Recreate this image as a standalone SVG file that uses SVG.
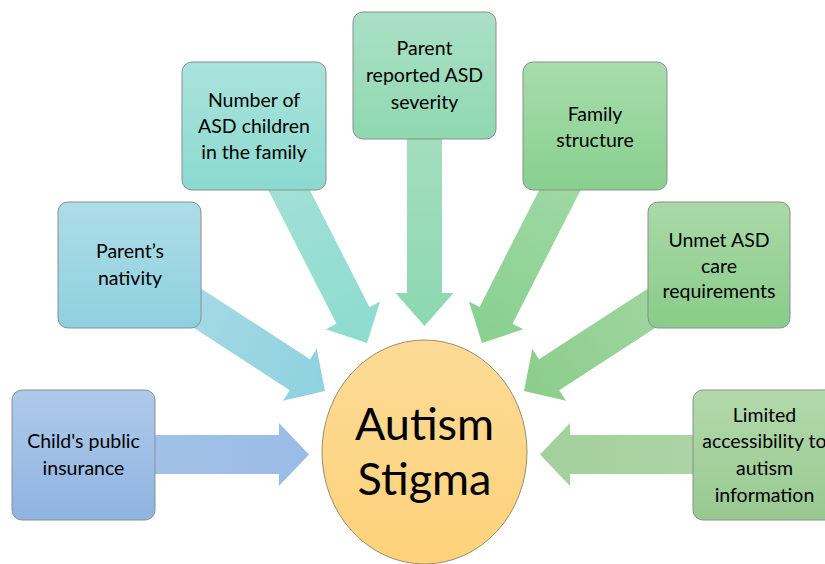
<svg xmlns="http://www.w3.org/2000/svg" width="825" height="564" viewBox="0 0 825 564">
<defs>
<style>
.box{stroke:#8a8f8f;stroke-width:1}
.t{font-family:Lato,"Open Sans","Liberation Sans",sans-serif;font-size:19.5px;fill:#000;text-anchor:middle}
.big{font-family:Lato,"Open Sans","Liberation Sans",sans-serif;font-size:45px;fill:#000;text-anchor:middle}
</style>
<linearGradient id="gChild" x1="0" y1="0" x2="0" y2="1"><stop offset="0" stop-color="#aecaeb"/><stop offset="1" stop-color="#8fb4e0"/></linearGradient>
<linearGradient id="gNat" x1="0" y1="0" x2="0" y2="1"><stop offset="0" stop-color="#aedde7"/><stop offset="1" stop-color="#8ed0df"/></linearGradient>
<linearGradient id="gNum" x1="0" y1="0" x2="0" y2="1"><stop offset="0" stop-color="#aae3db"/><stop offset="1" stop-color="#8bdacf"/></linearGradient>
<linearGradient id="gSev" x1="0" y1="0" x2="0" y2="1"><stop offset="0" stop-color="#abe0c6"/><stop offset="1" stop-color="#8fd8b0"/></linearGradient>
<linearGradient id="gFam" x1="0" y1="0" x2="0" y2="1"><stop offset="0" stop-color="#a8dcac"/><stop offset="1" stop-color="#88d08e"/></linearGradient>
<linearGradient id="gUnm" x1="0" y1="0" x2="0" y2="1"><stop offset="0" stop-color="#aad9a8"/><stop offset="1" stop-color="#89cc89"/></linearGradient>
<linearGradient id="gLim" x1="0" y1="0" x2="0" y2="1"><stop offset="0" stop-color="#b3d9ab"/><stop offset="1" stop-color="#98c991"/></linearGradient>
<linearGradient id="aChild" x1="0" y1="0" x2="1" y2="0"><stop offset="0" stop-color="#a6c3e8"/><stop offset="1" stop-color="#99bce6"/></linearGradient>
<linearGradient id="aNat" x1="0" y1="0" x2="1" y2="0"><stop offset="0" stop-color="#aedce6"/><stop offset="1" stop-color="#8ed2df"/></linearGradient>
<linearGradient id="aNum" x1="0" y1="0" x2="1" y2="0"><stop offset="0" stop-color="#aae1d8"/><stop offset="1" stop-color="#8cdccf"/></linearGradient>
<linearGradient id="aSev" x1="0" y1="0" x2="1" y2="0"><stop offset="0" stop-color="#abdfc4"/><stop offset="1" stop-color="#8cd8b0"/></linearGradient>
<linearGradient id="aFam" x1="0" y1="0" x2="1" y2="0"><stop offset="0" stop-color="#a6dbab"/><stop offset="1" stop-color="#88d08f"/></linearGradient>
<linearGradient id="aUnm" x1="0" y1="0" x2="1" y2="0"><stop offset="0" stop-color="#a8d8a7"/><stop offset="1" stop-color="#8bcd8b"/></linearGradient>
<linearGradient id="aLim" x1="0" y1="0" x2="1" y2="0"><stop offset="0" stop-color="#b0d6a8"/><stop offset="1" stop-color="#a3d09c"/></linearGradient>
<linearGradient id="gCore" x1="0" y1="0" x2="0" y2="1"><stop offset="0" stop-color="#fcdb96"/><stop offset="1" stop-color="#fdd27a"/></linearGradient>
</defs>
<rect width="825" height="564" fill="#fff"/>
<g id="connectors">
<path transform="translate(309,454.5)" fill="url(#aChild)" d="M-226,-19.5H-30V-31.5L0,0L-30,31.5V19.5H-226Z"/>
<path transform="translate(325,391) rotate(33)" fill="url(#aNat)" d="M-232,-18.5H-30V-31L0,0L-30,31V18.5H-232Z"/>
<path transform="translate(367,343) rotate(63)" fill="url(#aNum)" d="M-244,-18.5H-31V-30.5L0,0L-31,30.5V18.5H-244Z"/>
<path transform="translate(424.5,326) rotate(90)" fill="url(#aSev)" d="M-251,-17.5H-33V-29L0,0L-33,29V17.5H-251Z"/>
<path transform="translate(482,343) rotate(117)" fill="url(#aFam)" d="M-244,-18.5H-31V-30.5L0,0L-31,30.5V18.5H-244Z"/>
<path transform="translate(524,391) rotate(147)" fill="url(#aUnm)" d="M-232,-18.5H-30V-31L0,0L-30,31V18.5H-232Z"/>
<path transform="translate(540,454.5) rotate(180)" fill="url(#aLim)" d="M-226,-19.5H-30V-31.5L0,0L-30,31.5V19.5H-226Z"/>
</g>
<g id="child-insurance">
<rect class="box" x="12" y="390" width="143" height="130" rx="10" fill="url(#gChild)"/>
<text class="t" x="83.5" y="448">Child's public</text>
<text class="t" x="83.5" y="475">insurance</text>
</g>
<g id="parent-nativity">
<rect class="box" x="58" y="202" width="143" height="126" rx="10" fill="url(#gNat)"/>
<text class="t" x="130" y="258">Parent’s</text>
<text class="t" x="130" y="285">nativity</text>
</g>
<g id="number-asd-children">
<rect class="box" x="182" y="62" width="144" height="128" rx="10" fill="url(#gNum)"/>
<text class="t" x="254" y="107">Number of</text>
<text class="t" x="254" y="133">ASD children</text>
<text class="t" x="254" y="159">in the family</text>
</g>
<g id="asd-severity">
<rect class="box" x="353" y="12" width="143" height="127" rx="10" fill="url(#gSev)"/>
<text class="t" x="424.5" y="55">Parent</text>
<text class="t" x="424.5" y="82">reported ASD</text>
<text class="t" x="424.5" y="109">severity</text>
</g>
<g id="family-structure">
<rect class="box" x="523" y="62" width="144" height="128" rx="10" fill="url(#gFam)"/>
<text class="t" x="595" y="121">Family</text>
<text class="t" x="595" y="147">structure</text>
</g>
<g id="unmet-care">
<rect class="box" x="648" y="202" width="142" height="126" rx="10" fill="url(#gUnm)"/>
<text class="t" x="719" y="247">Unmet ASD</text>
<text class="t" x="719" y="273">care</text>
<text class="t" x="719" y="298">requirements</text>
</g>
<g id="limited-accessibility">
<rect class="box" x="693" y="390" width="143" height="130" rx="10" fill="url(#gLim)"/>
<text class="t" x="764.5" y="422">Limited</text>
<text class="t" x="764.5" y="448">accessibility to</text>
<text class="t" x="764.5" y="475">autism</text>
<text class="t" x="764.5" y="502">information</text>
</g>
<g id="autism-stigma">
<ellipse cx="424.5" cy="452" rx="102.5" ry="112" fill="url(#gCore)" stroke="#9a8c6e" stroke-width="1"/>
<text class="big" x="424.5" y="440">Autism</text>
<text class="big" x="424.5" y="495">Stigma</text>
</g>
</svg>
